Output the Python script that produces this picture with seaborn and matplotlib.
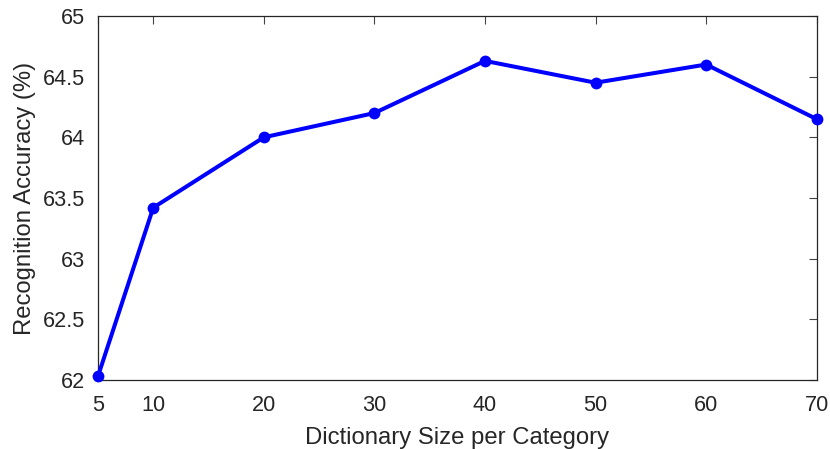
import matplotlib
matplotlib.use("Agg")
import matplotlib.pyplot as plt
import seaborn as sns
import pandas as pd

dict_sizes = [5, 10, 20, 30, 40, 50, 60, 70]
accuracy = [62.03, 63.42, 64.00, 64.20, 64.63, 64.45, 64.60, 64.15]
x_ticks = [5, 10, 20, 30, 40, 50, 60, 70]
y_ticks = [62, 62.5, 63, 63.5, 64, 64.5, 65]
y_tick_labels = ["62", "62.5", "63", "63.5", "64", "64.5", "65"]

sns.set_style("white")
plt.rcParams["font.family"] = ["Liberation Sans", "DejaVu Sans"]

df = pd.DataFrame({"size": dict_sizes, "acc": accuracy})

fig = plt.figure(figsize=(8.3, 4.49), dpi=100)
ax = fig.add_axes([0.118, 0.1537, 0.866, 0.8107])
sns.lineplot(data=df, x="size", y="acc", ax=ax, color="#0000ff",
             linewidth=2.9, marker="o", markersize=8.5, markeredgewidth=0,
             clip_on=False, zorder=5)

ax.set_xlim(5, 70)
ax.set_ylim(62, 65)
ax.set_xticks(x_ticks)
ax.set_yticks(y_ticks)
ax.set_yticklabels(y_tick_labels)
ax.tick_params(direction="in", top=True, right=True, length=6, width=0.8,
               color="#444444", labelsize=15.6, labelcolor="#262626")
ax.tick_params(axis="x", pad=11)
ax.tick_params(axis="y", pad=9)
for s in ax.spines.values():
    s.set_color("#262626")
    s.set_linewidth(0.9)
    s.set_visible(True)
ax.set_xlabel("Dictionary Size per Category", fontsize=17.2, color="#262626", labelpad=8)
ax.set_ylabel("Recognition Accuracy (%)", fontsize=17.2, color="#262626", labelpad=5)

fig.savefig("out.png", dpi=100)
